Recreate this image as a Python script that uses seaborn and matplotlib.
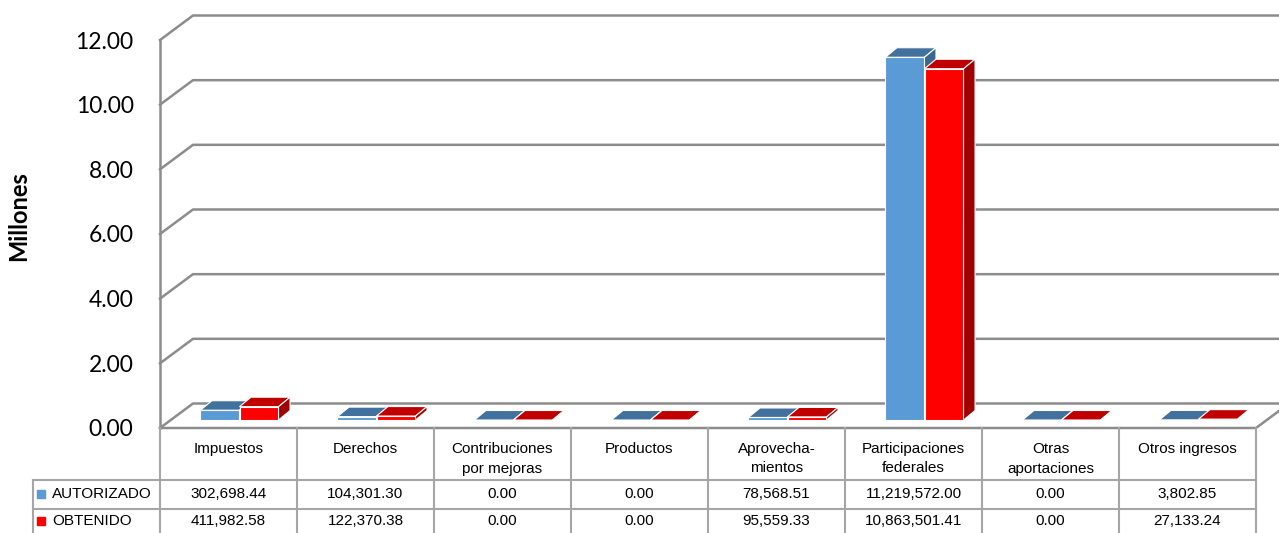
import pandas as pd
import seaborn as sns
import matplotlib.pyplot as plt
from matplotlib.patches import Polygon

categorias = ['Impuestos', 'Derechos', 'Contribuciones\npor mejoras', 'Productos',
              'Aprovecha-\nmientos', 'Participaciones\nfederales', 'Otras\naportaciones',
              'Otros ingresos']
autorizado = [302698.44, 104301.30, 0.00, 0.00, 78568.51, 11219572.00, 0.00, 3802.85]
obtenido = [411982.58, 122370.38, 0.00, 0.00, 95559.33, 10863501.41, 0.00, 27133.24]
series = ['AUTORIZADO', 'OBTENIDO']
yticks = [0, 2, 4, 6, 8, 10, 12]

# colores: frente, tapa, lado
col_front = {'AUTORIZADO': '#5B9BD5', 'OBTENIDO': '#FF0000'}
col_top = {'AUTORIZADO': '#41719C', 'OBTENIDO': '#C00000'}
col_side = {'AUTORIZADO': '#3A6890', 'OBTENIDO': '#A00000'}
grid_col = '#8C8C8C'
table_col = '#A6A6A6'

df = pd.DataFrame({
    'categoria': categorias * 2,
    'serie': [series[0]] * len(categorias) + [series[1]] * len(categorias),
    'valor': [v / 1e6 for v in autorizado + obtenido],
})

W, H = 1279, 533
fig = plt.figure(figsize=(W / 100, H / 100), dpi=100)
ax = fig.add_axes([160 / W, (H - 428) / H, (1256 - 160) / W, (428 - 40) / H])

sns.barplot(data=df, x='categoria', y='valor', hue='serie', hue_order=series,
            palette=[col_front[s] for s in series], width=0.57, saturation=1,
            edgecolor='white', linewidth=0.8, legend=False, ax=ax)

ax.set_xlim(-0.5, 7.5)
ax.set_ylim(0, 12)

# pixel -> data units
PX = 8 / (1256 - 160)
PY = 12 / (428 - 40)
# profundidad del piso/pared y de las barras
DX, DY = 33 * PX, 24.5 * PY
OX, OY = 11 * PX, 8 * PY
BX, BY = 11.5 * PX, 9.5 * PY

for k, (cont, s) in enumerate(zip(ax.containers, series)):
    for p in cont:
        x0 = p.get_x() + OX
        w = p.get_width()
        h = p.get_height()
        p.set_x(x0)
        p.set_y(OY)
        p.set_zorder(3 + k)
        top = [(x0, OY + h), (x0 + w, OY + h), (x0 + w + BX, OY + h + BY), (x0 + BX, OY + h + BY)]
        side = [(x0 + w, OY), (x0 + w + BX, OY + BY), (x0 + w + BX, OY + h + BY), (x0 + w, OY + h)]
        ax.add_patch(Polygon(top, closed=True, facecolor=col_top[s], edgecolor='white',
                             linewidth=0.8, zorder=3 + k, clip_on=False))
        ax.add_patch(Polygon(side, closed=True, facecolor=col_side[s], edgecolor='white',
                             linewidth=0.8, zorder=3 + k, clip_on=False))

# pared y piso
for v in yticks:
    ax.plot([-0.5, -0.5 + DX, 7.5 + DX], [v, v + DY, v + DY], color=grid_col,
            linewidth=1.8, zorder=1, clip_on=False)
ax.plot([-0.5, -0.5], [0, 12], color=grid_col, linewidth=1.8, zorder=1, clip_on=False)
ax.plot([-0.5, 7.5, 7.5 + DX], [0, 0, DY], color=grid_col, linewidth=1.8, zorder=1, clip_on=False)

for sp in ax.spines.values():
    sp.set_visible(False)
ax.set_xticks([])
ax.set_yticks(yticks)
ax.set_yticklabels(['%.2f' % v for v in yticks], fontsize=16.5, family=['Lato', 'DejaVu Sans'])
ax.tick_params(axis='y', length=0, pad=19)
ax.set_xlabel('')
ax.set_ylabel('')
fig.text(19 / W, 1 - 216 / H, 'Millones', rotation=90, ha='center', va='center',
         fontsize=17, fontweight='bold', family=['Lato', 'DejaVu Sans'])

# tabla de datos
tb = fig.add_axes([0, 0, 1, 1])
tb.set_xlim(0, W)
tb.set_ylim(H, 0)
tb.axis('off')
tb.patch.set_alpha(0)
narrow = ['Liberation Sans', 'DejaVu Sans']
cw = (1256 - 160) / 8
xs = [160 + cw * i for i in range(9)]
for xv in xs[1:]:
    tb.plot([xv, xv], [428, 540], color=table_col, linewidth=1.5)
tb.plot([160, 160], [428, 540], color=table_col, linewidth=1.5)
tb.plot([33, 33], [480, 540], color=table_col, linewidth=1.5)
for yv in [480, 509]:
    tb.plot([33, 1256], [yv, yv], color=table_col, linewidth=1.5)

for i, c in enumerate(categorias):
    tb.text(xs[i] + cw / 2, 442, c, ha='center', va='top', fontsize=11,
            family=narrow, linespacing=1.5)
for r, (s, vals) in enumerate(zip(series, [autorizado, obtenido])):
    yc = 494 + r * 27
    tb.add_patch(plt.Rectangle((37, yc - 4), 8, 8, color=col_front[s]))
    tb.text(52, yc, s, ha='left', va='center', fontsize=11, family=narrow)
    for i, v in enumerate(vals):
        tb.text(xs[i] + cw / 2, yc, '{:,.2f}'.format(v), ha='center', va='center',
                fontsize=11, family=narrow)

fig.savefig('out.png', dpi=100)
